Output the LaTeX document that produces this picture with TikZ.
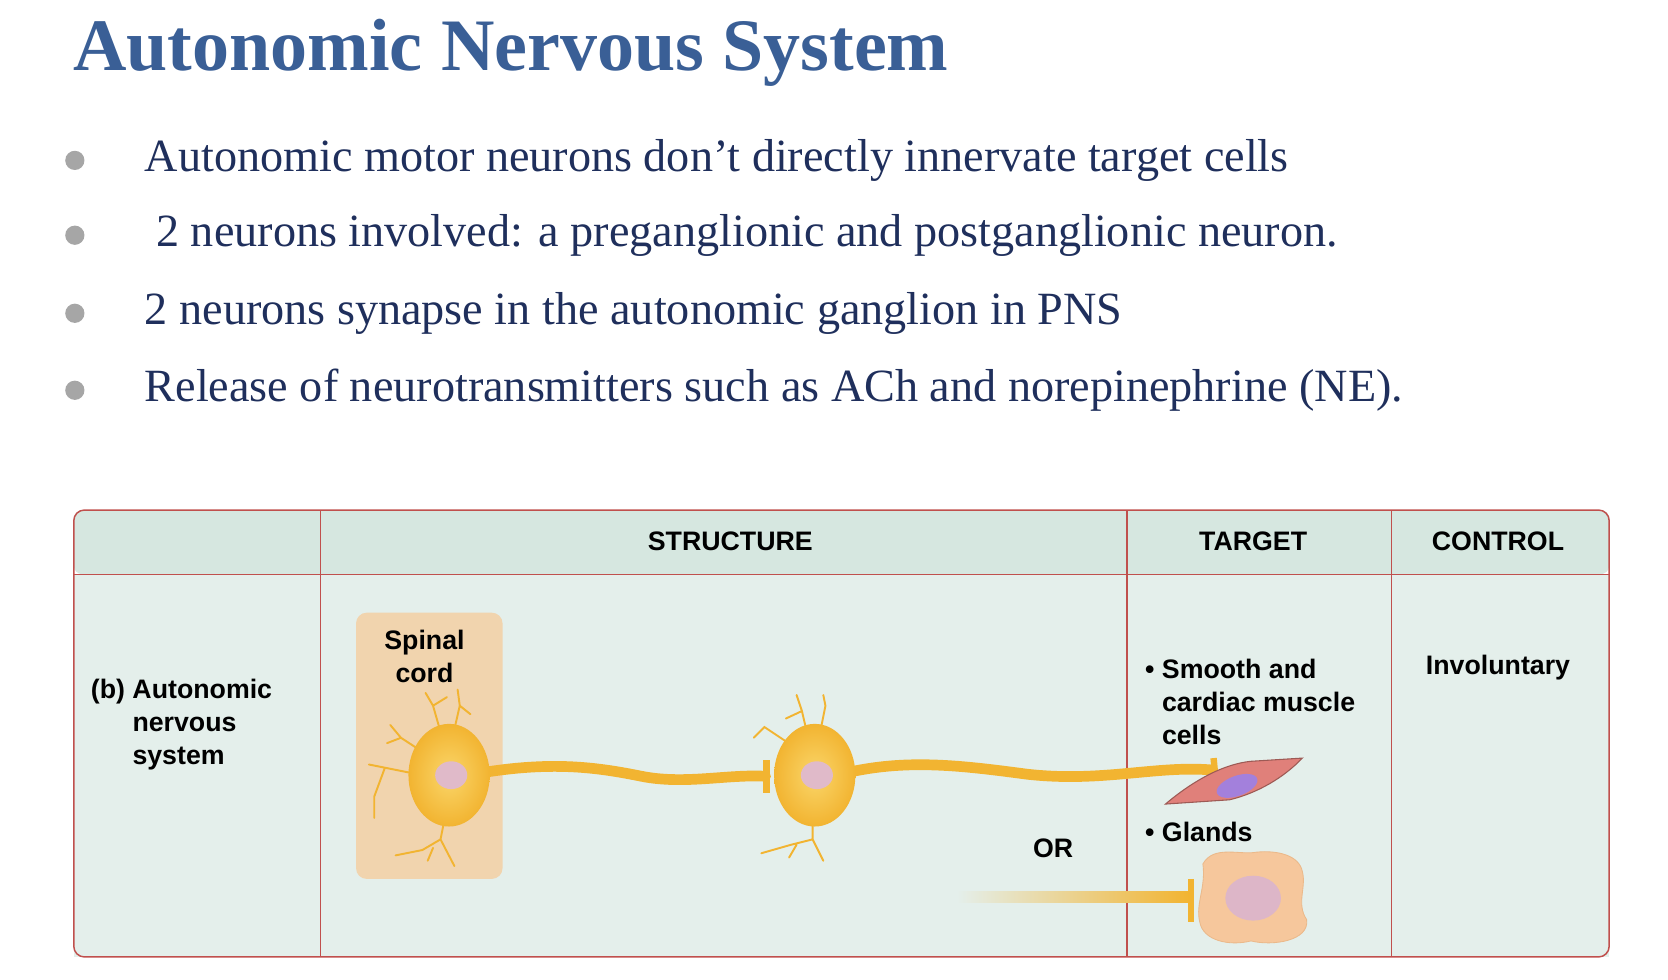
\documentclass[tikz,border=0pt]{standalone}
\usepackage{fontspec}
\setmainfont{Liberation Serif}
\setsansfont{Liberation Sans}
\usetikzlibrary{shapes.geometric}
\definecolor{ttl}{HTML}{3A5F96}
\definecolor{btxt}{HTML}{1F2F5C}
\definecolor{hdr}{HTML}{D6E7E0}
\definecolor{bdy}{HTML}{E4EFEB}
\definecolor{rline}{HTML}{C0504D}
\definecolor{spc}{HTML}{F1D4AE}
\definecolor{nrn}{HTML}{F2B431}
\definecolor{nrnl}{HTML}{FAD66A}
\definecolor{musc}{HTML}{E0807A}
\definecolor{glnd}{HTML}{F6C79C}
\tikzset{
 bul/.style={circle,fill=gray!70,inner sep=0pt,minimum size=9pt},
 btext/.style={anchor=west,font=\fontsize{21.6}{24}\selectfont,text=btxt},
 hd/.style={font=\sffamily\bfseries\fontsize{12.5}{14}\selectfont},
 cell/.style={font=\sffamily\bfseries\fontsize{12.5}{15.5}\selectfont,align=left},
 axon/.style={draw=nrn,line width=5pt,line cap=round},
 dend/.style={draw=nrn,line width=0.9pt,line cap=round},
 soma/.style={ellipse,minimum width=38pt,minimum height=48pt,inner color=nrnl,outer color=nrn,draw=none},
 nuc/.style={ellipse,minimum width=15pt,minimum height=13pt,fill=violet!25!pink!80!gray!60}
}
\begin{document}
\begin{tikzpicture}[x=0.5pt,y=-0.5pt]
\useasboundingbox (0,0) rectangle (1560,916);
\node[anchor=base west,inner sep=0,text=ttl,font=\bfseries\fontsize{34.6}{38}\selectfont] (title) at (68,66) {Autonomic Nervous System};
\foreach \y/\t [count=\i] in {150/{Autonomic motor neurons don’t directly innervate target cells},220/{\ 2 neurons involved: a preganglionic and postganglionic neuron.},293/{2 neurons synapse in the autonomic ganglion in PNS},365/{Release of neurotransmitters such as ACh and norepinephrine (NE).}}{
 \node[bul] (b\i) at (70,\y) {};
 \node[btext,inner sep=0] (t\i) at (135,\y) {\t};
}
% table
\fill[rounded corners=4pt,hdr] (69,477) rectangle (1505,537);
\fill[bdy] (69,537) rectangle (1505,895);
\draw[rline,line width=0.7pt,rounded corners=5pt] (69,477) rectangle (1505,895);
\draw[rline,line width=0.6pt] (69,537) -- (1505,537);
\foreach \x in {300,1054,1301}{\draw[rline,line width=0.5pt] (\x,477) -- (\x,895);}
\node[hd] (h1) at (683,506) {STRUCTURE};
\node[hd] (h2) at (1172,506) {TARGET};
\node[hd] (h3) at (1401,506) {CONTROL};
\node[cell,anchor=north west] (rowl) at (78,628) {(b) Autonomic\\\phantom{(b) }nervous\\\phantom{(b) }system};
\fill[spc,rounded corners=5pt] (333,573) rectangle (470,822);
\node[cell,align=center] (sc) at (397,614) {Spinal\\cord};
% axons
\draw[axon] (455,722) .. controls (520,712) and (560,718) .. (600,726) .. controls (640,734) and (680,724) .. (716,726);
\draw[nrn,line width=3pt] (717,711) -- (717,742);
\draw[axon] (795,722) .. controls (850,710) and (900,716) .. (960,724) .. controls (1030,732) and (1080,716) .. (1132,720);
\draw[nrn,line width=3pt] (1135,709) -- (1137,730);
\fill[left color=bdy,right color=nrn] (895,834) rectangle (1112,844);
\draw[nrn,line width=3pt] (1114,822) -- (1114,862);
% dendrites neuron1
\draw[dend] (415,695) -- (405,660) -- (398,648) (405,660) -- (418,652) (422,695) -- (430,660) -- (428,645) (430,660) -- (440,668);
\draw[dend] (398,705) -- (375,690) -- (365,678) (375,690) -- (362,695);
\draw[dend] (395,725) -- (360,718) -- (345,715) (360,718) -- (350,745) -- (350,765);
\draw[dend] (418,755) -- (412,785) -- (395,795) -- (370,800) (412,785) -- (425,810) (405,793) -- (400,805);
\node[soma] (s1) at (420,725) {};
\node[nuc] (n1) at (422,725) {};
% neuron 2
\draw[dend] (757,695) -- (750,665) -- (745,650) (750,665) -- (735,672) (765,695) -- (772,660) -- (770,650) (745,700) -- (715,680) -- (705,690);
\draw[dend] (760,755) -- (760,785) -- (740,790) -- (712,798) (760,785) -- (770,805) (745,790) -- (738,802);
\node[soma] (s2) at (762,725) {};
\node[nuc] (n2) at (764,725) {};
% muscle cell
\draw[draw=musc!70!black,fill=musc,line width=0.5pt] (1090,752) .. controls (1110,735) and (1140,715) .. (1170,712) -- (1218,709) .. controls (1200,728) and (1175,742) .. (1150,748) -- cycle;
\node[ellipse,fill=violet!55!blue!50,minimum width=20pt,minimum height=8pt,rotate=20] (mn) at (1157,735) {};
% gland
\draw[fill=glnd,draw=glnd!80!brown] (1125,808) .. controls (1135,790) and (1160,800) .. (1175,797) .. controls (1195,795) and (1215,800) .. (1218,815) .. controls (1222,830) and (1212,845) .. (1222,860) .. controls (1225,880) and (1190,885) .. (1170,880) .. controls (1150,885) and (1125,880) .. (1122,862) .. controls (1118,845) and (1128,830) .. (1125,808) -- cycle;
\node[ellipse,fill=violet!30!pink!80!gray!60,minimum width=26pt,minimum height=21pt] (gn) at (1172,840) {};
\node[cell,anchor=north west] (tg1) at (1064,609) {\textbullet\ Smooth and\\\phantom{\textbullet\ }cardiac muscle\\\phantom{\textbullet\ }cells};
\node[cell,anchor=west] (tg2) at (1064,778) {\textbullet\ Glands};
\node[cell] (or) at (985,793) {OR};
\node[cell] (inv) at (1401,624) {Involuntary};
\end{tikzpicture}
\end{document}
